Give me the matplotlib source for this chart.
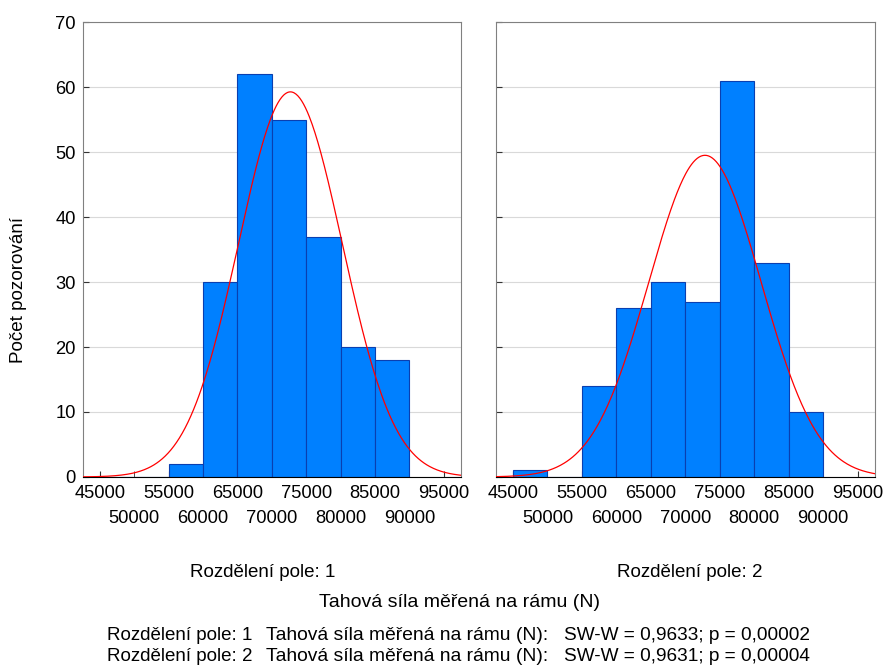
import numpy as np
import matplotlib.pyplot as plt

plt.rcParams['font.family'] = ['Liberation Sans', 'DejaVu Sans']

# bin edges shared by both panels
bin_edges = [45000, 50000, 55000, 60000, 65000, 70000, 75000, 80000, 85000, 90000]
counts_1 = [0, 0, 2, 30, 62, 55, 37, 20, 18]
counts_2 = [1, 0, 14, 26, 30, 27, 61, 33, 10]

# fitted normal curve parameters (mean, sd)
fit_1 = (72700, 7540)
fit_2 = (72850, 8140)

xticks_upper = [45000, 55000, 65000, 75000, 85000, 95000]
xticks_lower = [50000, 60000, 70000, 80000, 90000]
panel_titles = ['Rozdělení pole: 1', 'Rozdělení pole: 2']
var_name = 'Tahová síla měřená na rámu (N)'
sw_stats = ['SW-W = 0,9633; p = 0,00002', 'SW-W = 0,9631; p = 0,00004']

fs = 13.2

fig = plt.figure(figsize=(8.86, 6.67), dpi=100)
ax1 = fig.add_axes([0.0933, 0.2849, 0.427, 0.682])
ax2 = fig.add_axes([0.5595, 0.2849, 0.428, 0.682])

xs = np.linspace(42500, 97500, 400)
for ax, counts, (mu, sd) in [(ax1, counts_1, fit_1), (ax2, counts_2, fit_2)]:
    lefts = bin_edges[:-1]
    ax.bar(lefts, counts, width=5000, align='edge', color='#0080ff',
           edgecolor='#0a3fb0', linewidth=0.8, zorder=2)
    n = sum(counts)
    pdf = n * 5000 / (sd * np.sqrt(2 * np.pi)) * np.exp(-0.5 * ((xs - mu) / sd) ** 2)
    ax.plot(xs, pdf, color='red', linewidth=0.9, zorder=3)
    ax.set_xlim(42500, 97500)
    ax.set_ylim(0, 70)
    ax.set_yticks(range(0, 71, 10))
    ax.yaxis.grid(True, color='#d9d9d9', linewidth=0.8, zorder=0)
    ax.set_axisbelow(True)
    # staggered x labels: upper row as major ticks, lower row as minor ticks
    ax.set_xticks(xticks_upper)
    ax.set_xticklabels([str(t) for t in xticks_upper])
    ax.set_xticks(xticks_lower, minor=True)
    ax.set_xticklabels([str(t) for t in xticks_lower], minor=True)
    ax.tick_params(axis='x', which='major', direction='in', labelsize=fs, length=4,
                   pad=6, color='#333333')
    ax.tick_params(axis='x', which='minor', direction='in', labelsize=fs, length=4,
                   pad=24, color='#333333')
    ax.tick_params(axis='y', direction='in', labelsize=fs, length=4, pad=5, color='#333333')
    for side in ['top', 'right', 'left']:
        ax.spines[side].set_color('#808080')
    ax.spines['bottom'].set_color('black')

ax2.tick_params(axis='y', labelleft=False)

fig.text(0.021, 0.565, 'Počet pozorování', rotation=90, ha='center', va='center', fontsize=13.6)
fig.text(0.297, 0.142, panel_titles[0], ha='center', va='center', fontsize=13.5)
fig.text(0.779, 0.142, panel_titles[1], ha='center', va='center', fontsize=13.5)
fig.text(0.519, 0.096, var_name, ha='center', va='center', fontsize=14)

# Shapiro-Wilk footer, one line per group
for i, ypos in enumerate([0.047, 0.016]):
    fig.text(0.121, ypos, panel_titles[i], ha='left', va='center', fontsize=13.5)
    fig.text(0.300, ypos, var_name + ':', ha='left', va='center', fontsize=13.9)
    fig.text(0.637, ypos, sw_stats[i], ha='left', va='center', fontsize=13.7)

fig.savefig('out.png', dpi=100)
